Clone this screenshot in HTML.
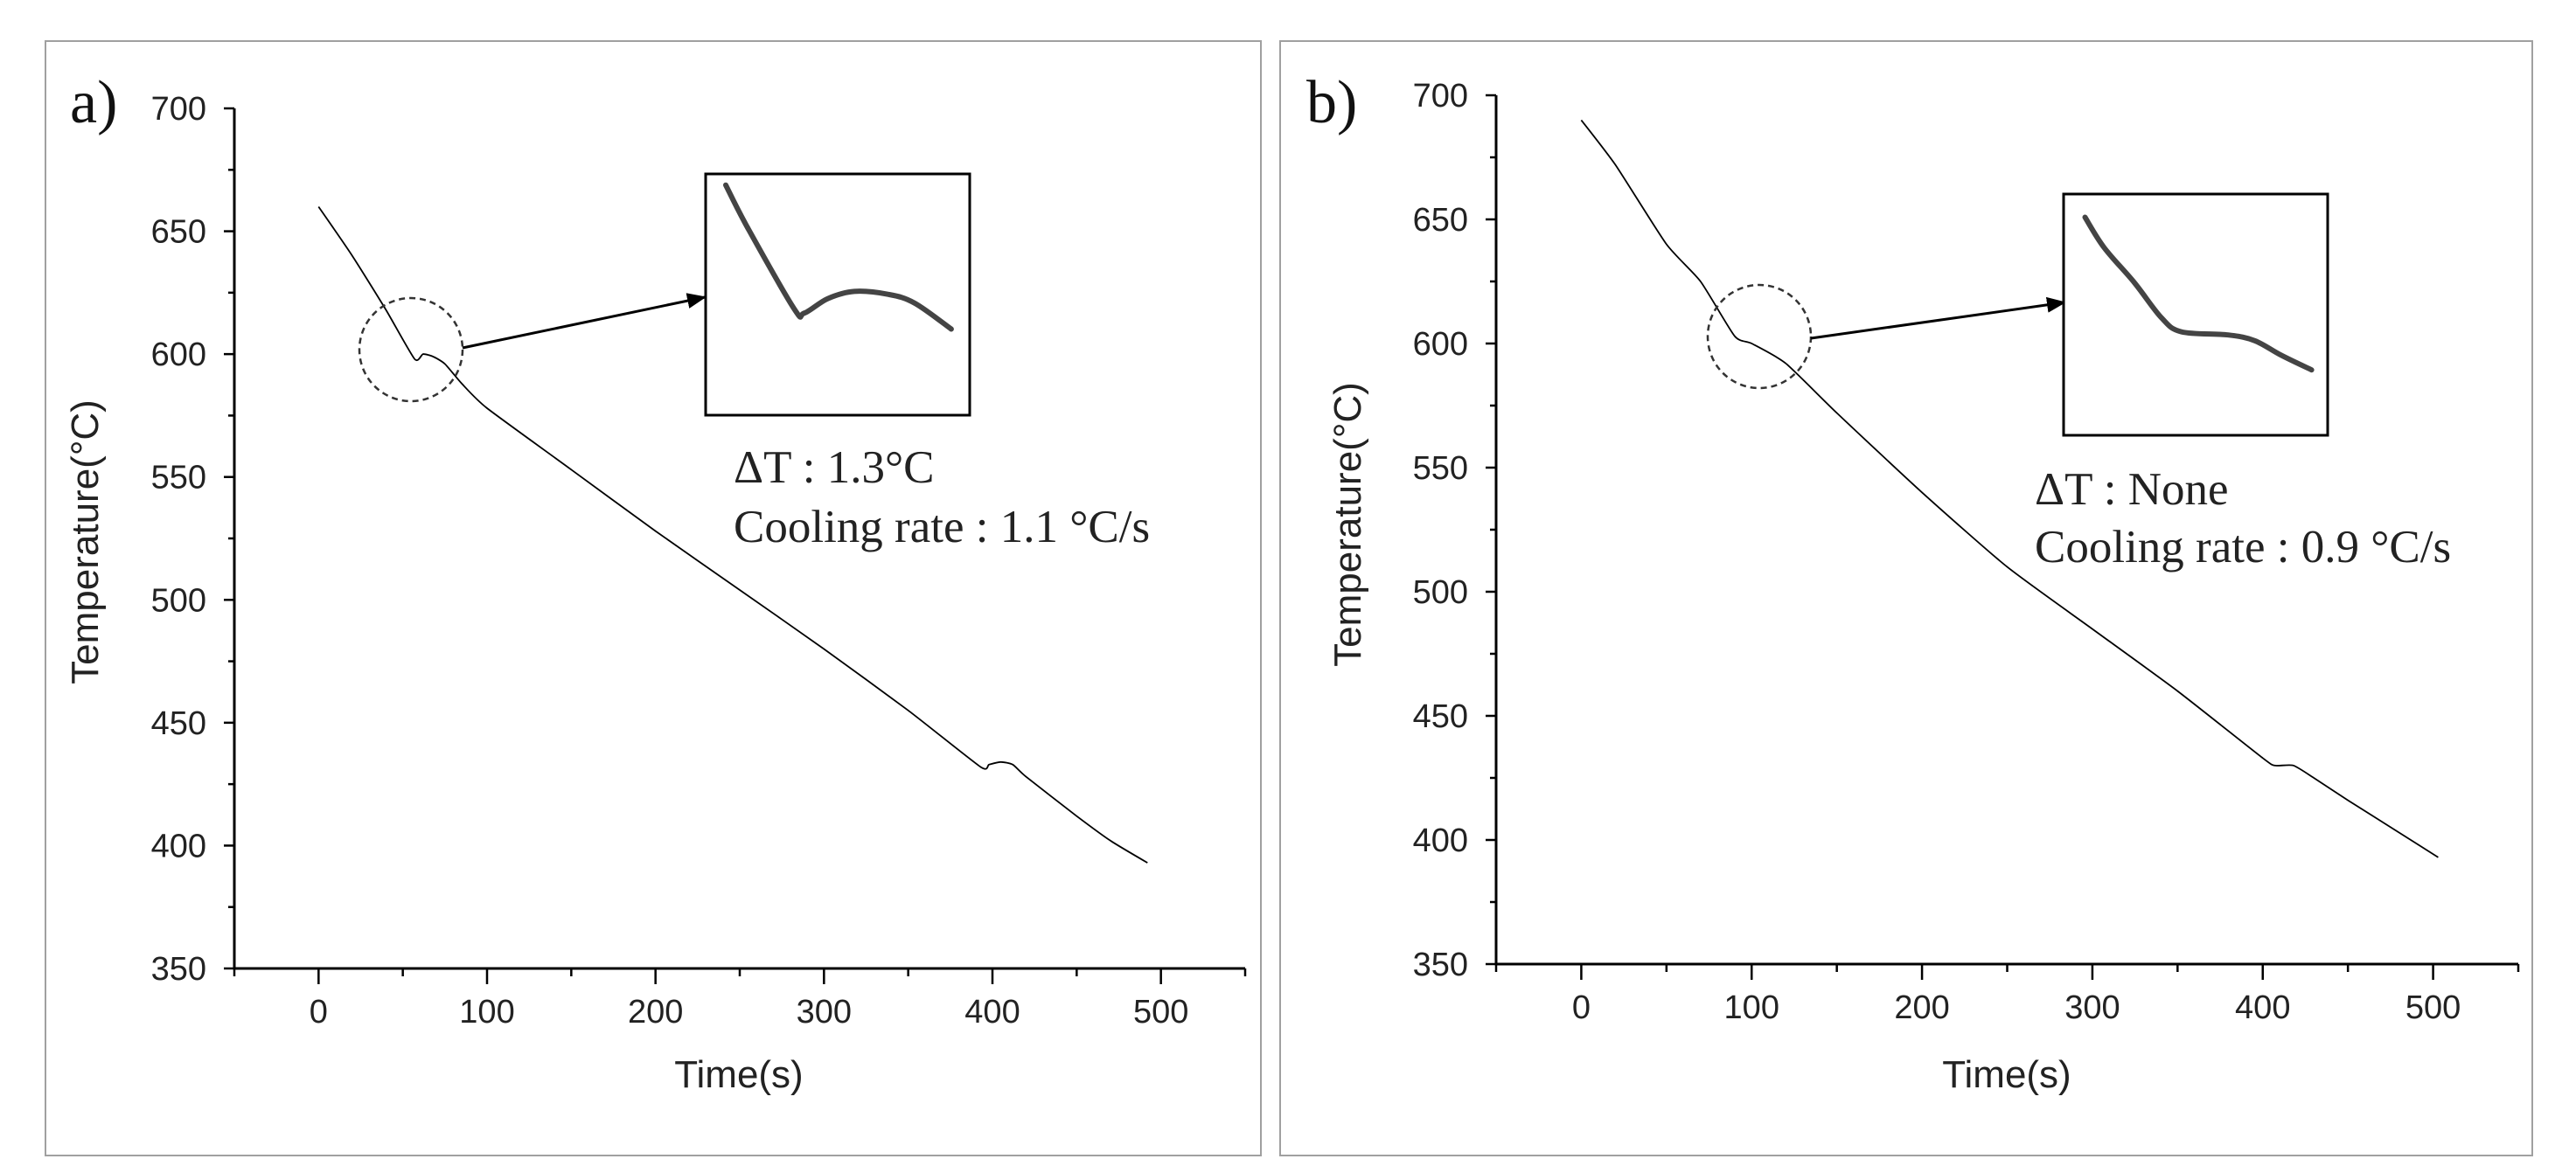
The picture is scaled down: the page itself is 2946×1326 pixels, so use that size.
<!DOCTYPE html>
<html><head><meta charset="utf-8"><style>
body{margin:0;background:#fff;}
svg{display:block;}
</style></head><body>
<svg id="chart" width="2946" height="1326" viewBox="0 0 2946 1326" xmlns="http://www.w3.org/2000/svg"></svg>
<script>
// panel a data
const timeA = [0, 20, 40, 57, 62, 68, 75, 85, 100, 150, 200, 250, 300, 350, 393, 398, 405, 412, 420, 450, 470, 492];
const tempA = [660, 640, 618, 598, 600, 599, 596, 588, 578, 553, 528, 504, 480, 455, 432, 433, 434, 433, 428, 412, 402, 393];
// panel b data
const timeB = [0, 20, 50, 70, 90, 100, 120, 150, 200, 250, 300, 350, 400, 407, 418, 430, 450, 480, 503];
const tempB = [690, 672, 640, 625, 603, 600, 592, 572, 540, 510, 485, 460, 433, 430, 430, 425, 416, 403, 393];
// inset zoom curves (fraction of inset box)
const insetAx = [0.076, 0.158, 0.335, 0.373, 0.462, 0.563, 0.690, 0.791, 0.930];
const insetAy = [0.046, 0.221, 0.559, 0.577, 0.517, 0.487, 0.499, 0.535, 0.643];
const insetBx = [0.081, 0.154, 0.268, 0.370, 0.446, 0.623, 0.724, 0.825, 0.939];
const insetBy = [0.096, 0.223, 0.367, 0.512, 0.571, 0.584, 0.608, 0.669, 0.729];
const xTicks = [0, 100, 200, 300, 400, 500];
const yTicks = [350, 400, 450, 500, 550, 600, 650, 700];

const NS = "http://www.w3.org/2000/svg";
const svg = document.getElementById('chart');
function mk(tag, attrs, parent, text){
  const e = document.createElementNS(NS, tag);
  for (const k in attrs) e.setAttribute(k, attrs[k]);
  if (text !== undefined) e.textContent = text;
  (parent || svg).appendChild(e);
  return e;
}
function smoothPath(pts, k){
  k = k || 6;
  let d = 'M' + pts[0][0].toFixed(1) + ' ' + pts[0][1].toFixed(1);
  for (let i = 0; i < pts.length - 1; i++){
    const p0 = pts[Math.max(0,i-1)], p1 = pts[i], p2 = pts[i+1], p3 = pts[Math.min(pts.length-1,i+2)];
    const c1x = p1[0] + (p2[0]-p0[0])/k, c1y = p1[1] + (p2[1]-p0[1])/k;
    const c2x = p2[0] - (p3[0]-p1[0])/k, c2y = p2[1] - (p3[1]-p1[1])/k;
    d += ' C' + c1x.toFixed(1)+' '+c1y.toFixed(1)+' '+c2x.toFixed(1)+' '+c2y.toFixed(1)+' '+p2[0].toFixed(1)+' '+p2[1].toFixed(1);
  }
  return d;
}
mk('defs', {}).innerHTML = '<marker id="ah" markerWidth="22" markerHeight="18" refX="20" refY="9" orient="auto" markerUnits="userSpaceOnUse"><path d="M0 0 L22 9 L0 18 Z" fill="#000"/></marker>';

function panel(cfg){
  const g = mk('g', {});
  
  
  const frame = mk('rect', {x:cfg.fx, y:cfg.fy, width:cfg.fw, height:cfg.fh, fill:'#fff', stroke:'#a0a0a0', 'stroke-width':2}, g);
  
  
  const sx = v => cfg.x0 + (v - (-50)) / 600 * (cfg.x1 - cfg.x0);
  const sy = v => cfg.yb + (v - 350) / 350 * (cfg.yt - cfg.yb);
  const ax = mk('path', {d:`M${cfg.x0} ${cfg.yt} L${cfg.x0} ${cfg.yb} L${cfg.x1} ${cfg.yb}`, fill:'none', stroke:'#000', 'stroke-width':3}, g);
  
  
  for (let v = 350; v <= 700; v += 25){
    const major = v % 50 === 0;
    mk('line', {x1:cfg.x0 - (major?12:7), x2:cfg.x0, y1:sy(v), y2:sy(v), stroke:'#000', 'stroke-width':2.5}, g);
  }
  yTicks.forEach(v => {
    const t = mk('text', {x:cfg.x0 - 32, y:sy(v) + 13, 'text-anchor':'end', 'font-size':38, 'font-family':'Liberation Sans, sans-serif', fill:'#222'}, g, String(v));
    
    
  });
  for (let v = -50; v <= 550; v += 50){
    const major = v % 100 === 0;
    mk('line', {x1:sx(v), x2:sx(v), y1:cfg.yb, y2:cfg.yb + (major?18:9), stroke:'#000', 'stroke-width':2.5}, g);
  }
  xTicks.forEach(v => {
    const t = mk('text', {x:sx(v), y:cfg.yb + 62, 'text-anchor':'middle', 'font-size':38, 'font-family':'Liberation Sans, sans-serif', fill:'#222'}, g, String(v));
    
    
  });
  const xt = mk('text', {x:cfg.xtx, y:cfg.xty, 'text-anchor':'middle', 'font-size':44, 'font-family':'Liberation Sans, sans-serif', fill:'#222'}, g, 'Time(s)');
  
  
  const yt = mk('text', {x:0, y:0, transform:`translate(${cfg.ytx},${cfg.yty}) rotate(-90)`, 'text-anchor':'middle', 'font-size':44, 'font-family':'Liberation Sans, sans-serif', fill:'#222'}, g, 'Temperature(°C)');
  
  
  const lb = mk('text', {x:cfg.lx, y:cfg.ly, 'font-size':70, 'font-family':'Liberation Serif, serif', fill:'#111'}, g, cfg.label);
  
  
  const pts = cfg.tx.map((t,i) => [sx(t), sy(cfg.ty[i])]);
  const c = mk('path', {d:smoothPath(pts, 10), fill:'none', stroke:'#000', 'stroke-width':1.8}, g);
  
  
  const ci = mk('circle', {cx:cfg.cx, cy:cfg.cy, r:59, fill:'none', stroke:'#333', 'stroke-width':2.5, 'stroke-dasharray':'7 5'}, g);
  
  
  const ar = mk('line', {x1:cfg.a1[0], y1:cfg.a1[1], x2:cfg.a2[0], y2:cfg.a2[1], stroke:'#000', 'stroke-width':3, 'marker-end':'url(#ah)'}, g);
  
  
  const [ix, iy, iw, ih] = cfg.inset;
  const ib = mk('rect', {x:ix, y:iy, width:iw, height:ih, fill:'#fff', stroke:'#000', 'stroke-width':3}, g);
  
  
  const ip = cfg.ix.map((f,i) => [ix + f*iw, iy + cfg.iy[i]*ih]);
  const ic = mk('path', {d:smoothPath(ip), fill:'none', stroke:'#444', 'stroke-width':6, 'stroke-linecap':'round'}, g);
  
  
  const t1 = mk('text', {x:cfg.tx0, y:cfg.tb1, 'font-size':53, 'font-family':'Liberation Serif, serif', fill:'#222'}, g, cfg.line1);
  
  
  const t2 = mk('text', {x:cfg.tx0, y:cfg.tb2, 'font-size':53, 'font-family':'Liberation Serif, serif', fill:'#222'}, g, cfg.line2);
  
  
}
panel({name:'panel-a', fx:52, fy:47, fw:1390, fh:1275, x0:268, x1:1424, yt:124, yb:1108,
  xtx:845, xty:1244, ytx:112, yty:620, label:'a)', lx:80, ly:140,
  tx:timeA, ty:tempA, cx:470, cy:400, a1:[529,398], a2:[806,340],
  inset:[807,199,302,276], ix:insetAx, iy:insetAy,
  tx0:839, tb1:552, tb2:620, line1:'ΔT : 1.3°C', line2:'Cooling rate : 1.1 °C/s'});
panel({name:'panel-b', fx:1464, fy:47, fw:1432, fh:1275, x0:1711, x1:2880, yt:109, yb:1103,
  xtx:2295, xty:1244, ytx:1556, yty:600, label:'b)', lx:1494, ly:140,
  tx:timeB, ty:tempB, cx:2012, cy:385, a1:[2071,387], a2:[2361,346],
  inset:[2360,222,302,276], ix:insetBx, iy:insetBy,
  tx0:2327, tb1:577, tb2:643, line1:'ΔT : None', line2:'Cooling rate : 0.9 °C/s'});
</script>
</body></html>
